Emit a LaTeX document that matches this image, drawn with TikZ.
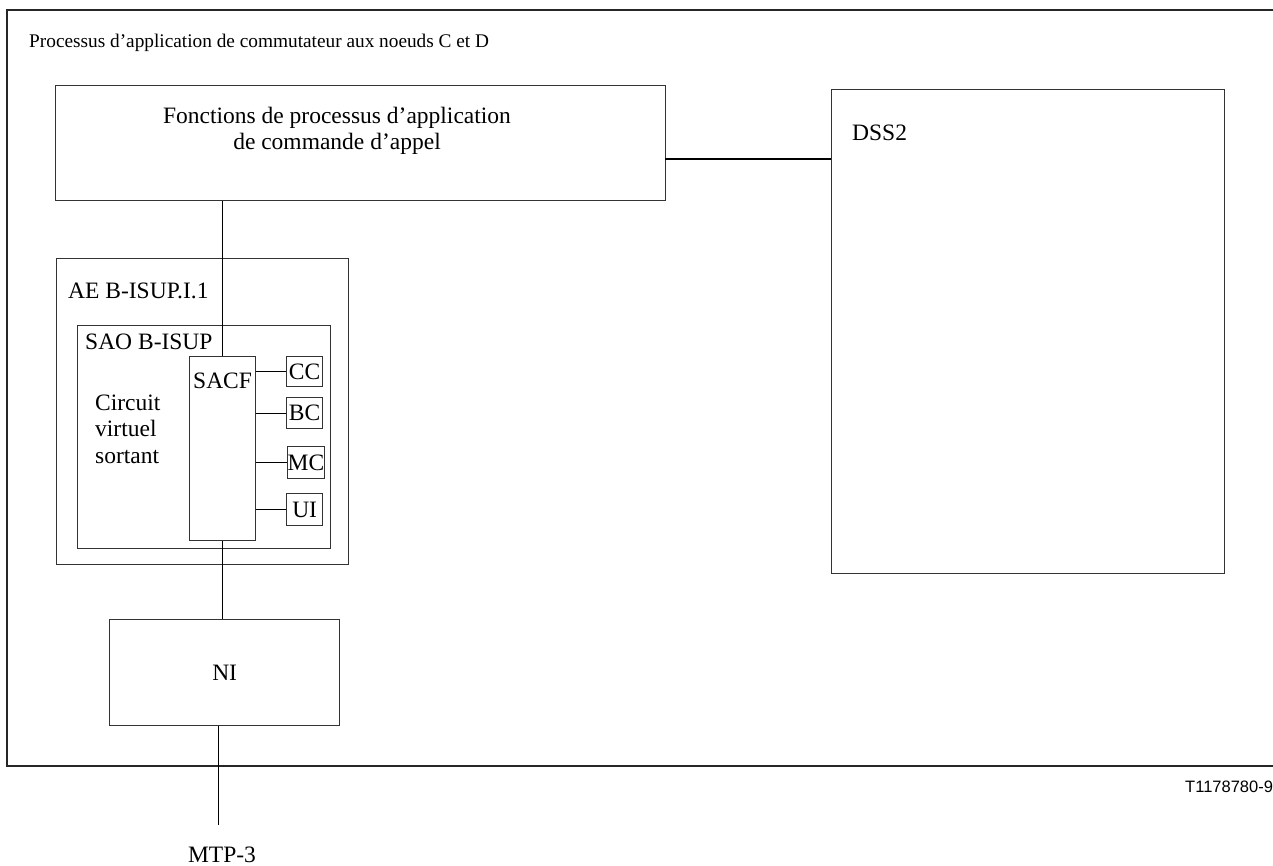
\documentclass[tikz,border=0pt]{standalone}
\usepackage{fontspec}
\setmainfont{Liberation Serif}
\newfontfamily\tnumfont{Liberation Sans}
\usepackage{tikz}
\usetikzlibrary{positioning}
\usetikzlibrary{calc}
\tikzstyle{cframe} = [draw=black!85, line width=1.6pt]
\tikzstyle{cbox}   = [draw=black!80, line width=1.3pt, rectangle, anchor=north west, inner sep=0pt]
\tikzstyle{clink}  = [draw=black, line width=1.3pt]
\tikzstyle{ctext}  = [font=\fontsize{23.5}{24}\selectfont, inner sep=0pt]
\begin{document}
\begin{tikzpicture}[x=1pt, y=-1pt]
     \useasboundingbox (0,0) rectangle (1273,865);
     % outer frame, runs off the right edge
     \draw[cframe] (7,10) rectangle (1290,766);
     \node[font=\fontsize{19.3}{20}\selectfont, inner sep=0pt, anchor=base west] (title) at (29,47) {Processus d'application de commutateur aux noeuds C et D};
     \node[cbox, minimum width=610pt, minimum height=115pt] (fonctions) at (55,85) {};
     \node[ctext, align=center, font=\fontsize{23.5}{26}\selectfont, anchor=base] (fonctionstext) at (337,149) {Fonctions de processus d'application\\de commande d'appel};
     \node[cbox, minimum width=393pt, minimum height=484pt] (dss2) at (831,89) {};
     \node[ctext, anchor=base west] (dss2text) at (852,140) {DSS2};
     \node[cbox, minimum width=292pt, minimum height=306pt] (ae) at (56,258) {};
     \node[ctext, anchor=base west] (aetext) at (68,298) {AE B-ISUP.I.1};
     \node[cbox, minimum width=253pt, minimum height=223pt] (sao) at (77,325) {};
     \node[ctext, anchor=base west] (saotext) at (85,349) {SAO B-ISUP};
     \node[ctext, anchor=base west, align=left, font=\fontsize{23.5}{26.5}\selectfont] (circuit) at (95,463) {Circuit\\virtuel\\sortant};
     \node[cbox, minimum width=66pt, minimum height=184pt] (sacf) at (189,356) {};
     \node[ctext, anchor=base west] (sacftext) at (193,388) {SACF};
     \node[cbox, ctext, minimum width=36pt, minimum height=30pt] (cc) at (286,356) {CC};
     \node[cbox, ctext, minimum width=36pt, minimum height=31pt] (bc) at (286,397) {BC};
     \node[cbox, ctext, minimum width=36pt, minimum height=32pt] (mc) at (287,446) {MC};
     \node[cbox, ctext, minimum width=36pt, minimum height=32pt] (ui) at (286,493) {UI};
     \node[cbox, ctext, minimum width=230pt, minimum height=106pt] (ni) at (109,619) {NI};
     \node[ctext, anchor=base] (mtp) at (222,862) {MTP-3};
     \node[font=\tnumfont\fontsize{16.5}{17}\selectfont, anchor=base west, inner sep=0pt] (tnum) at (1185,792) {T1178780-9};
     % links
     \coordinate (fd) at (665,159);
     \draw[clink] (fd) -- (fd -| dss2.west);
     \draw[clink] (sacf.north) -- (sacf.north |- fonctions.south);
     \draw[clink] (sacf.south) -- (sacf.south |- ni.north);
     \coordinate (mtpend) at (218.5,825);
     \draw[clink] (mtpend |- ni.south) -- (mtpend);
     \foreach \b in {cc,bc,mc,ui}
       \draw[clink] (\b.west) -- (\b.west -| sacf.east);
\end{tikzpicture}
\end{document}
